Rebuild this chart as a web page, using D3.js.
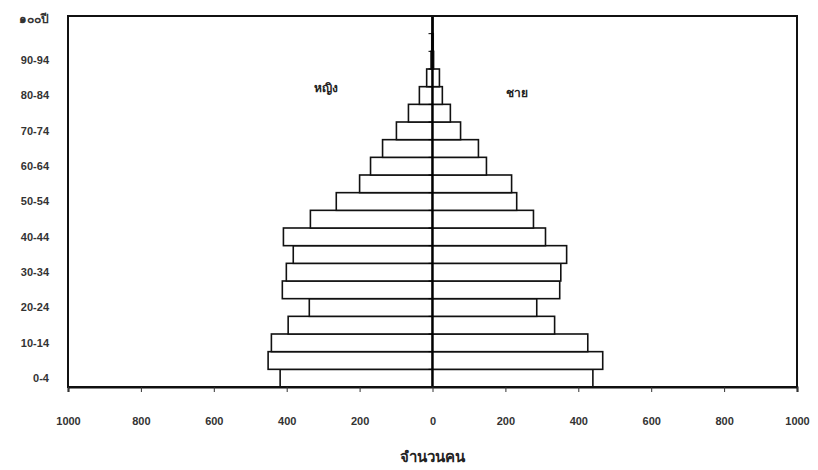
<!DOCTYPE html>
<html><head><meta charset="utf-8">
<script src="https://cdn.jsdelivr.net/npm/d3@7"></script>
<style>body{margin:0;background:#fff}svg{display:block}</style>
</head><body>
<script>
const ageGroups = ["0-4","5-9","10-14","15-19","20-24","25-29","30-34","35-39","40-44","45-49","50-54","55-59","60-64","65-69","70-74","75-79","80-84","85-89","90-94","95-99","๑๐๐ปี"];
const female = [418,451,442,396,338,412,401,382,409,335,264,200,170,137,99,66,36,16,4,2,1];
const male   = [440,467,426,335,286,349,352,368,310,277,231,217,148,126,77,49,27,19,3,2,1];
const shownLabels = ["0-4","10-14","20-24","30-34","40-44","50-54","60-64","70-74","80-84","90-94","๑๐๐ปี"];
const xTicks = [-1000,-800,-600,-400,-200,0,200,400,600,800,1000];
const femaleLabel = "หญิง", maleLabel = "ชาย", xTitle = "จำนวนคน";

const W = 818, H = 470;
const m = {left:68, right:21, top:16, bottom:83};
const svg = d3.select("body").append("svg").attr("width",W).attr("height",H);
const x = d3.scaleLinear().domain([-1000,1000]).range([m.left, W-m.right]);
const y = d3.scaleBand().domain(ageGroups).range([H-m.bottom, m.top]).padding(0);
const font = "'Liberation Sans', Arial, sans-serif";

// bars
const g = svg.append("g");
g.selectAll("rect.f").data(ageGroups).join("rect")
  .attr("x", (d,i)=>x(-female[i])).attr("y", d=>y(d))
  .attr("width", (d,i)=>x(0)-x(-female[i])).attr("height", y.bandwidth())
  .attr("fill","#fff").attr("stroke","#111").attr("stroke-width",1.6);
g.selectAll("rect.m").data(ageGroups).join("rect")
  .attr("x", x(0)).attr("y", d=>y(d))
  .attr("width", (d,i)=>x(male[i])-x(0)).attr("height", y.bandwidth())
  .attr("fill","#fff").attr("stroke","#111").attr("stroke-width",1.6);

// center axis with ticks
const cAxis = svg.append("g").attr("transform",`translate(${x(0)},0)`);
cAxis.append("line").attr("y1",m.top).attr("y2",H-m.bottom).attr("stroke","#000").attr("stroke-width",2.2);
cAxis.selectAll("line.t").data(ageGroups).join("line")
  .attr("x1",-4).attr("x2",0).attr("y1",d=>y(d)).attr("y2",d=>y(d))
  .attr("stroke","#000").attr("stroke-width",1);

// frame
svg.append("rect").attr("x",m.left).attr("y",m.top).attr("width",W-m.right-m.left).attr("height",H-m.bottom-m.top)
  .attr("fill","none").attr("stroke","#111").attr("stroke-width",2);

// x axis
const xAxis = d3.axisBottom(x).tickValues(xTicks).tickFormat(d=>Math.abs(d)).tickSize(5).tickPadding(25);
const xa = svg.append("g").attr("transform",`translate(0,${H-m.bottom})`).call(xAxis);
xa.select(".domain").attr("stroke","#111").attr("stroke-width",2);
xa.selectAll(".tick line").attr("stroke","#333");
xa.selectAll("text").attr("font-family",font).attr("font-size",11).attr("font-weight","bold").attr("fill","#333");

// y labels
svg.append("g").selectAll("text").data(shownLabels).join("text")
  .attr("x",49).attr("y",d=>y(d)+y.bandwidth()/2 + (d==="๑๐๐ปี"?-6:0)).attr("dy","0.35em")
  .attr("text-anchor","end").attr("font-family",font).attr("font-size",d=>d==="๑๐๐ปี"?12:11).attr("font-weight","bold").attr("fill","#333")
  .text(d=>d);

// labels
svg.append("text").attr("x",326).attr("y",92).attr("text-anchor","middle").attr("font-family",font)
  .attr("font-size",12).attr("font-weight","bold").attr("fill","#222").text(femaleLabel);
svg.append("text").attr("x",517).attr("y",97).attr("text-anchor","middle").attr("font-family",font)
  .attr("font-size",12).attr("font-weight","bold").attr("fill","#222").text(maleLabel);
svg.append("text").attr("x",x(0)).attr("y",462).attr("text-anchor","middle").attr("font-family",font)
  .attr("font-size",15).attr("font-weight","bold").attr("fill","#222").text(xTitle);
</script>
</body></html>
